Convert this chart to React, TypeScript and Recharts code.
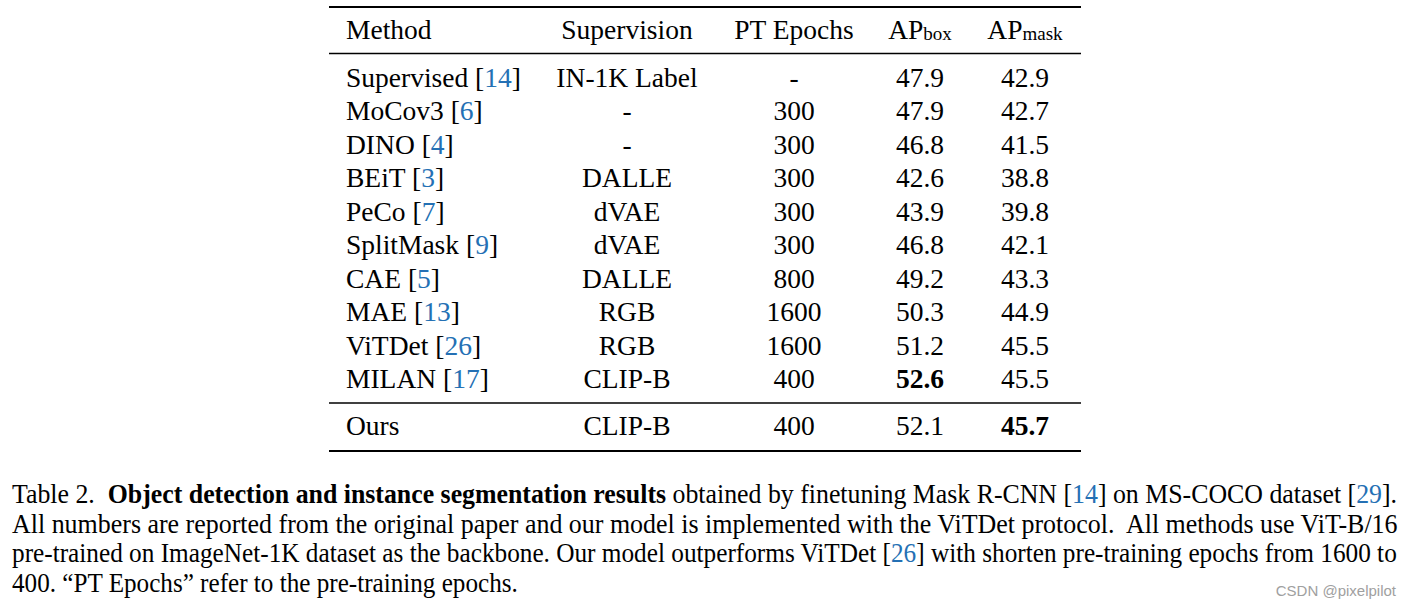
import React, { useLayoutEffect, useRef, useState } from "react";
import { Surface } from "recharts";

const headers = ["Method", "Supervision", "PT Epochs", "AP", "AP"];
const headerSubs = ["", "", "", "box", "mask"];
const methods = ["Supervised", "MoCov3", "DINO", "BEiT", "PeCo", "SplitMask", "CAE", "MAE", "ViTDet", "MILAN", "Ours"];
const citations = ["14", "6", "4", "3", "7", "9", "5", "13", "26", "17", ""];
const supervision = ["IN-1K Label", "-", "-", "DALLE", "dVAE", "dVAE", "DALLE", "RGB", "RGB", "CLIP-B", "CLIP-B"];
const ptEpochs = ["-", "300", "300", "300", "300", "300", "800", "1600", "1600", "400", "400"];
const apBox = [47.9, 47.9, 46.8, 42.6, 43.9, 46.8, 49.2, 50.3, 51.2, 52.6, 52.1];
const apMask = [42.9, 42.7, 41.5, 38.8, 39.8, 42.1, 43.3, 44.9, 45.5, 45.5, 45.7];

type Seg = { t: string; b?: boolean; c?: boolean };
const captionLine1: Seg[] = [
  { t: "Table 2.  " },
  { t: "Object detection and instance segmentation results", b: true },
  { t: " obtained by finetuning Mask R-CNN [" },
  { t: "14", c: true },
  { t: "] on MS-COCO dataset [" },
  { t: "29", c: true },
  { t: "]." },
];
const captionLine2: Seg[] = [
  { t: "All numbers are reported from the original paper and our model is implemented with the ViTDet protocol.  All methods use ViT-B/16" },
];
const captionLine3: Seg[] = [
  { t: "pre-trained on ImageNet-1K dataset as the backbone. Our model outperforms ViTDet [" },
  { t: "26", c: true },
  { t: "] with shorten pre-training epochs from 1600 to" },
];
const captionLine4: Seg[] = [{ t: "400. \u201CPT Epochs\u201D refer to the pre-training epochs." }];
const captionLines = [captionLine1, captionLine2, captionLine3, captionLine4];
const captionWidths = [1386, 1386, 1386, 506];
const watermark = "CSDN @pixelpilot";

const W = 1411;
const H = 608;
const SERIF = "'Liberation Serif', 'Times New Roman', serif";
const BLUE = "#2470b4";
const FS = 27.5;
const colX = [346, 627, 794, 920, 1025];
const headerY = 39;
const rowY = (i: number) => (i < 10 ? 86.5 + i * 33.55 : 435);

const maxBox = Math.max(...apBox);
const maxMask = Math.max(...apMask);

function CaptionLine({ segs, y, width }: { segs: Seg[]; y: number; width: number }) {
  const ref = useRef<SVGTextElement>(null);
  const [sx, setSx] = useState(1);
  useLayoutEffect(() => {
    if (ref.current) {
      const w = ref.current.getComputedTextLength();
      if (w > 0) setSx(width / w);
    }
  }, [width]);
  return (
    <g transform={`translate(12, ${y}) scale(${sx}, 1)`}>
      <text ref={ref} x={0} y={0} fontFamily={SERIF} fontSize={26.5} fill="#000" style={{ whiteSpace: "pre" }}>
        {segs.map((s, q) => (
          <tspan key={q} fontWeight={s.b ? "bold" : "normal"} fill={s.c ? BLUE : "#000"}>
            {s.t}
          </tspan>
        ))}
      </text>
    </g>
  );
}

export default function App() {
  return (
    <div style={{ position: "absolute", left: 0, top: 0, width: W, height: H, background: "#fff" }}>
      <Surface width={W} height={H}>
        <rect x={0} y={0} width={W} height={H} fill="#fff" />
        {/* rules */}
        <line x1={329} x2={1081} y1={7} y2={7} stroke="#000" strokeWidth={2} />
        <line x1={329} x2={1081} y1={53.5} y2={53.5} stroke="#000" strokeWidth={1.3} />
        <line x1={329} x2={1081} y1={403} y2={403} stroke="#000" strokeWidth={1.3} />
        <line x1={329} x2={1081} y1={451} y2={451} stroke="#000" strokeWidth={2} />
        {/* header */}
        {headers.map((h, j) => (
          <text
            key={"h" + j}
            x={colX[j]}
            y={headerY}
            fontFamily={SERIF}
            fontSize={FS}
            fill="#000"
            textAnchor={j === 0 ? "start" : "middle"}
          >
            {h}
            {headerSubs[j] ? (
              <tspan fontSize={19} dy={1}>
                {headerSubs[j]}
              </tspan>
            ) : null}
          </text>
        ))}
        {/* rows */}
        {methods.map((m, i) => {
          const y = rowY(i);
          return (
            <g key={"r" + i}>
              <text x={colX[0]} y={y} fontFamily={SERIF} fontSize={FS} fill="#000" style={{ whiteSpace: "pre" }}>
                {m}
                {citations[i] ? (
                  <>
                    <tspan>{" ["}</tspan>
                    <tspan fill={BLUE}>{citations[i]}</tspan>
                    <tspan>]</tspan>
                  </>
                ) : null}
              </text>
              <text x={colX[1]} y={y} fontFamily={SERIF} fontSize={FS} fill="#000" textAnchor="middle">
                {supervision[i]}
              </text>
              <text x={colX[2]} y={y} fontFamily={SERIF} fontSize={FS} fill="#000" textAnchor="middle">
                {ptEpochs[i]}
              </text>
              <text
                x={colX[3]}
                y={y}
                fontFamily={SERIF}
                fontSize={FS}
                fill="#000"
                textAnchor="middle"
                fontWeight={apBox[i] === maxBox ? "bold" : "normal"}
              >
                {apBox[i].toFixed(1)}
              </text>
              <text
                x={colX[4]}
                y={y}
                fontFamily={SERIF}
                fontSize={FS}
                fill="#000"
                textAnchor="middle"
                fontWeight={apMask[i] === maxMask && i === methods.length - 1 ? "bold" : "normal"}
              >
                {apMask[i].toFixed(1)}
              </text>
            </g>
          );
        })}
        {/* caption */}
        {captionLines.map((line, k) => (
          <CaptionLine key={"c" + k} segs={line} y={503 + k * 29.7} width={captionWidths[k]} />
        ))}
        <text
          x={1396}
          y={596}
          fontFamily="'Liberation Sans', Arial, sans-serif"
          fontSize={15}
          fill="#a0a0a0"
          textAnchor="end"
        >
          {watermark}
        </text>
      </Surface>
    </div>
  );
}
